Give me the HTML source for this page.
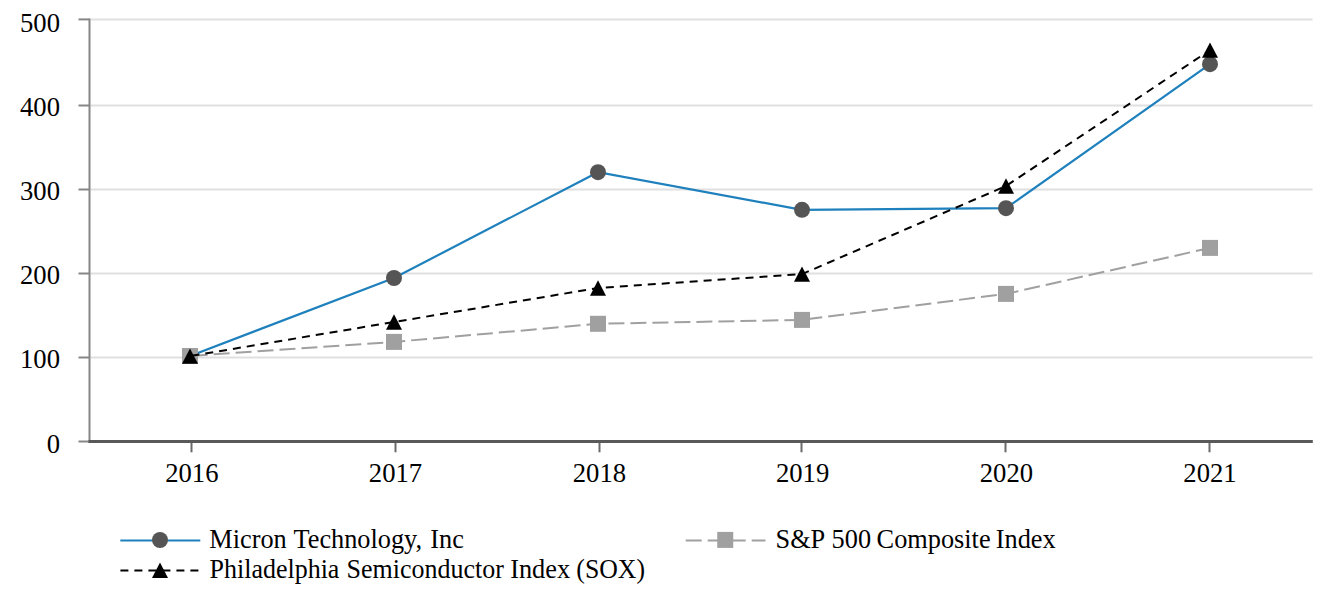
<!DOCTYPE html><html><head><meta charset="utf-8"><style>html,body{margin:0;padding:0;background:#fff;width:1332px;height:612px;overflow:hidden}svg{display:block}text{font-family:"Liberation Serif",serif;fill:#000}</style></head><body>
<svg width="1332" height="612" viewBox="0 0 1332 612">
<line x1="90.5" y1="19.4" x2="1312.5" y2="19.4" stroke="#e0e0e0" stroke-width="2"/>
<line x1="90.5" y1="105.5" x2="1312.5" y2="105.5" stroke="#e0e0e0" stroke-width="2"/>
<line x1="90.5" y1="189.5" x2="1312.5" y2="189.5" stroke="#e0e0e0" stroke-width="2"/>
<line x1="90.5" y1="273.5" x2="1312.5" y2="273.5" stroke="#e0e0e0" stroke-width="2"/>
<line x1="90.5" y1="357.5" x2="1312.5" y2="357.5" stroke="#e0e0e0" stroke-width="2"/>
<line x1="89.5" y1="18.4" x2="89.5" y2="443" stroke="#868686" stroke-width="2"/>
<line x1="78.5" y1="19.4" x2="89.5" y2="19.4" stroke="#868686" stroke-width="2"/>
<line x1="78.5" y1="105.5" x2="89.5" y2="105.5" stroke="#868686" stroke-width="2"/>
<line x1="78.5" y1="189.5" x2="89.5" y2="189.5" stroke="#868686" stroke-width="2"/>
<line x1="78.5" y1="273.5" x2="89.5" y2="273.5" stroke="#868686" stroke-width="2"/>
<line x1="78.5" y1="357.5" x2="89.5" y2="357.5" stroke="#868686" stroke-width="2"/>
<line x1="78.5" y1="441.5" x2="89.5" y2="441.5" stroke="#868686" stroke-width="2"/>
<line x1="88.5" y1="441.5" x2="1312.8" y2="441.5" stroke="#595959" stroke-width="3"/>
<line x1="191.5" y1="443" x2="191.5" y2="452.3" stroke="#6a6a6a" stroke-width="2"/>
<line x1="395.5" y1="443" x2="395.5" y2="452.3" stroke="#6a6a6a" stroke-width="2"/>
<line x1="599.5" y1="443" x2="599.5" y2="452.3" stroke="#6a6a6a" stroke-width="2"/>
<line x1="801.5" y1="443" x2="801.5" y2="452.3" stroke="#6a6a6a" stroke-width="2"/>
<line x1="1005.5" y1="443" x2="1005.5" y2="452.3" stroke="#6a6a6a" stroke-width="2"/>
<line x1="1209.5" y1="443" x2="1209.5" y2="452.3" stroke="#6a6a6a" stroke-width="2"/>
<text x="60" y="32.3" font-size="26.67" text-anchor="end">500</text>
<text x="60" y="116.2" font-size="26.67" text-anchor="end">400</text>
<text x="60" y="200.2" font-size="26.67" text-anchor="end">300</text>
<text x="60" y="284.2" font-size="26.67" text-anchor="end">200</text>
<text x="60" y="368.4" font-size="26.67" text-anchor="end">100</text>
<text x="60" y="452.5" font-size="26.67" text-anchor="end">0</text>
<text x="191.8" y="482.3" font-size="26.67" text-anchor="middle">2016</text>
<text x="395.5" y="482.3" font-size="26.67" text-anchor="middle">2017</text>
<text x="599.4" y="482.3" font-size="26.67" text-anchor="middle">2018</text>
<text x="802.6" y="482.3" font-size="26.67" text-anchor="middle">2019</text>
<text x="1006.4" y="482.3" font-size="26.67" text-anchor="middle">2020</text>
<text x="1210.0" y="482.3" font-size="26.67" text-anchor="middle">2021</text>
<polyline points="190,356 394,278.0 598,172.2 802,209.8 1006,208.2 1210,64.2" fill="none" stroke="#1e80bc" stroke-width="2.2"/>
<circle cx="190" cy="356" r="8" fill="#555555"/>
<circle cx="394" cy="278.0" r="8" fill="#555555"/>
<circle cx="598" cy="172.2" r="8" fill="#555555"/>
<circle cx="802" cy="209.8" r="8" fill="#555555"/>
<circle cx="1006" cy="208.2" r="8" fill="#555555"/>
<circle cx="1210" cy="64.2" r="8" fill="#555555"/>
<polyline points="190,356 394,341.9 598,323.8 802,319.9 1006,293.9 1210,247.9" fill="none" stroke="#a0a0a0" stroke-width="2" stroke-dasharray="16 6" stroke-dashoffset="-1.7"/>
<rect x="182.0" y="348.0" width="16" height="16" fill="#a0a0a0"/>
<rect x="386.0" y="333.9" width="16" height="16" fill="#a0a0a0"/>
<rect x="590.0" y="315.8" width="16" height="16" fill="#a0a0a0"/>
<rect x="794.0" y="311.9" width="16" height="16" fill="#a0a0a0"/>
<rect x="998.0" y="285.9" width="16" height="16" fill="#a0a0a0"/>
<rect x="1202.0" y="239.9" width="16" height="16" fill="#a0a0a0"/>
<polyline points="190,356.1 394,322 598,288 802,274.1 1006,186 1210,50.1" fill="none" stroke="#000" stroke-width="2" stroke-dasharray="8 6" stroke-dashoffset="-1.5"/>
<path d="M190 348.40000000000003L198.0 363.8L182.0 363.8Z" fill="#000"/>
<path d="M394 314.3L402.0 329.7L386.0 329.7Z" fill="#000"/>
<path d="M598 280.3L606.0 295.7L590.0 295.7Z" fill="#000"/>
<path d="M802 266.40000000000003L810.0 281.8L794.0 281.8Z" fill="#000"/>
<path d="M1006 178.3L1014.0 193.7L998.0 193.7Z" fill="#000"/>
<path d="M1210 42.4L1218.0 57.800000000000004L1202.0 57.800000000000004Z" fill="#000"/>
<line x1="120.3" y1="540.5" x2="200.3" y2="540.5" stroke="#1e80bc" stroke-width="2"/>
<circle cx="160" cy="540" r="8" fill="#555555"/>
<text x="209.3" y="548" font-size="26.3">Micron</text><text x="293.5" y="548" font-size="26.3">Technology,</text><text x="430.3" y="548" font-size="26.3">Inc</text>
<line x1="685.7" y1="540.5" x2="765.5" y2="540.5" stroke="#a0a0a0" stroke-width="2" stroke-dasharray="16 6"/>
<rect x="717.25" y="531.9" width="16" height="16" fill="#a0a0a0"/>
<text x="775.5" y="548" font-size="26.3">S&amp;P</text><text x="831.6" y="548" font-size="26.3">500</text><text x="876.6" y="548" font-size="26.3">Composite</text><text x="995.8" y="548" font-size="26.3">Index</text>
<line x1="120.4" y1="570.5" x2="198.8" y2="570.5" stroke="#000" stroke-width="2" stroke-dasharray="8 6"/>
<path d="M160 562.45L168.0 577.95L152.0 577.95Z" fill="#000"/>
<text x="209.6" y="578" font-size="26.3" textLength="129.8" lengthAdjust="spacingAndGlyphs">Philadelphia</text><text x="346.6" y="578" font-size="26.3" textLength="157.2" lengthAdjust="spacingAndGlyphs">Semiconductor</text><text x="510.2" y="578" font-size="26.3">Index</text><text x="576.3" y="578" font-size="26.3" textLength="68.7" lengthAdjust="spacingAndGlyphs">(SOX)</text>
</svg></body></html>
